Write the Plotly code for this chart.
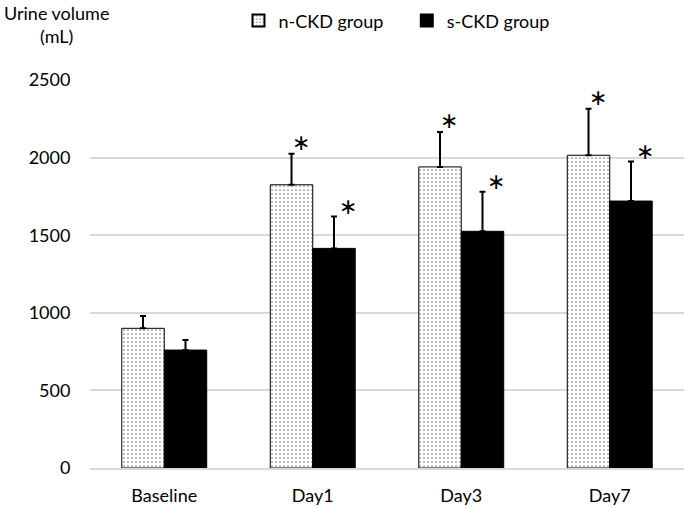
import plotly.graph_objects as go

categories = ["Baseline", "Day1", "Day3", "Day7"]
n_ckd = [900, 1825, 1940, 2015]
n_ckd_err = [80, 200, 225, 300]
s_ckd = [760, 1415, 1525, 1720]
s_ckd_err = [65, 205, 255, 255]
n_sig = [False, True, True, True]
s_sig = [False, True, True, True]
y_ticks = [0, 500, 1000, 1500, 2000, 2500]

FONT = "Lato"
NBSP = "\u00a0"

fig = go.Figure()
fig.add_trace(go.Bar(
    name="n-CKD group" + NBSP * 4, x=categories, y=n_ckd,
    marker=dict(color="white", line=dict(color="black", width=1),
                pattern=dict(shape=".", fgcolor="black", bgcolor="white", size=4, solidity=0.15)),
    error_y=dict(type="data", array=n_ckd_err, arrayminus=[0]*4, symmetric=False,
                 color="black", thickness=2, width=3),
))
fig.add_trace(go.Bar(
    name="s-CKD group", x=categories, y=s_ckd,
    marker=dict(color="black", line=dict(color="black", width=1)),
    error_y=dict(type="data", array=s_ckd_err, arrayminus=[0]*4, symmetric=False,
                 color="black", thickness=2, width=3),
))

for i, c in enumerate(categories):
    if n_sig[i]:
        fig.add_annotation(x=c, y=n_ckd[i] + n_ckd_err[i], text="\u2217", showarrow=False,
                           xshift=-12, yshift=11, yanchor="middle",
                           font=dict(size=22, family="DejaVu Sans", color="black"))
    if s_sig[i]:
        fig.add_annotation(x=c, y=s_ckd[i] + s_ckd_err[i], text="\u2217", showarrow=False,
                           xshift=35, yshift=10, yanchor="middle",
                           font=dict(size=22, family="DejaVu Sans", color="black"))

fig.add_annotation(xref="paper", yref="paper", x=-0.0556, y=1.205, xanchor="center", yanchor="top",
                   text="Urine volume<br>(mL)", showarrow=False, align="center",
                   font=dict(size=18, family=FONT, color="black"))

fig.update_layout(
    width=685, height=508,
    margin=dict(l=90, r=1, t=80, b=40, autoexpand=False),
    paper_bgcolor="white", plot_bgcolor="white",
    font=dict(family=FONT, size=18, color="black"),
    barmode="group", bargap=0.428, bargroupgap=0,
    showlegend=True,
    legend=dict(orientation="h", x=0.25, y=1.2, xanchor="left", yanchor="top",
                font=dict(size=18, family=FONT), itemsizing="constant",
                itemwidth=30, tracegroupgap=0),
    yaxis=dict(range=[0, 2500], tickvals=y_ticks, showgrid=True, gridcolor="#d9d9d9",
               gridwidth=1.5, zeroline=False, ticks="outside", ticklen=15,
               tickcolor="rgba(0,0,0,0)", showline=False, automargin=False),
    xaxis=dict(showline=True, linecolor="#d9d9d9", linewidth=1.5, ticks="outside",
               ticklen=11, tickcolor="rgba(0,0,0,0)", automargin=False),
)

fig.write_html("out.html", config={"displayModeBar": False},
               post_script="document.body.style.margin='0';")
